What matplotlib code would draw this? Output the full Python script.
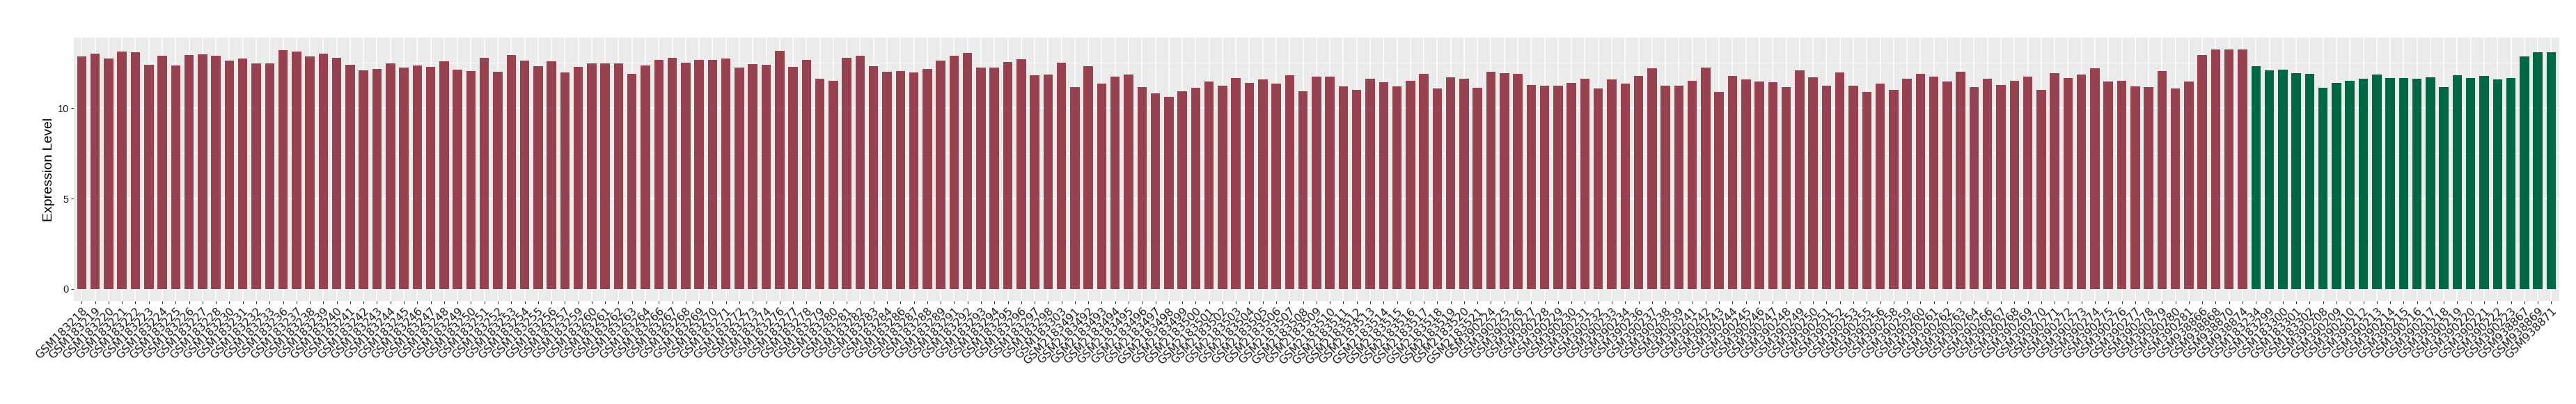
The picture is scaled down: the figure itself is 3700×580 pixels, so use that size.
import matplotlib
matplotlib.use("Agg")
import matplotlib.pyplot as plt
import numpy as np

# sample ids, first group (red)
red_samples = (
    ["GSM1832%02d" % n for n in [18, 19, 20, 21, 22, 23, 24, 25, 26, 27, 28, 30, 31, 32, 33,
                                  36, 37, 38, 39, 40, 41, 42, 43, 44, 45, 46, 47, 48, 49, 50,
                                  51, 52, 53, 54, 55, 56, 57, 59, 60, 61, 62, 63, 64, 66, 67,
                                  68, 69, 70, 71, 72, 73, 74, 76, 77, 78, 79, 80, 81, 82, 83,
                                  84, 86, 87, 88, 89, 91, 92, 93, 94, 95, 96, 97, 98]]
    + ["GSM183303"]
    + ["GSM2183%d" % n for n in range(491, 522)]
    + ["GSM390%d" % n for n in [224, 225, 226, 227, 228, 229, 230, 231, 232, 233, 234, 236,
                                237, 238, 239, 241, 242, 243, 244, 245, 246, 247, 248, 249,
                                250, 251, 252, 253, 255, 256, 258, 259, 260, 261, 262, 263,
                                264, 266, 267, 268, 269, 270, 271, 272, 273, 274, 275, 276,
                                277, 278, 279, 280, 281]]
    + ["GSM938866", "GSM938868", "GSM938870", "GSM938874"]
)

# second group (green)
green_samples = (
    ["GSM183234", "GSM183299", "GSM183300", "GSM183301", "GSM183302"]
    + ["GSM390%d" % n for n in [208, 209, 210, 212, 213, 214, 215, 216, 217, 218, 219, 220,
                                221, 222, 223]]
    + ["GSM938867", "GSM938869", "GSM938871"]
)

red_values = [
    12.87, 13.01, 12.74, 13.13, 13.09, 12.39, 12.89, 12.35, 12.93, 12.97,
    12.89, 12.62, 12.74, 12.47, 12.47, 13.20, 13.13, 12.85, 13.01, 12.78,
    12.39, 12.08, 12.16, 12.47, 12.23, 12.35, 12.27, 12.58, 12.12, 12.04,
    12.78, 12.00, 12.93, 12.62, 12.31, 12.58, 11.96, 12.27, 12.47, 12.47,
    12.47, 11.88, 12.35, 12.66, 12.78, 12.51, 12.66, 12.66, 12.74, 12.23,
    12.43, 12.39, 13.16, 12.27, 12.66, 11.61, 11.50, 12.78, 12.89, 12.31,
    12.00, 12.04, 11.96, 12.16, 12.62, 12.89, 13.05, 12.23, 12.23, 12.54,
    12.70, 11.81, 11.84, 12.51,
    11.18, 12.31, 11.34, 11.73, 11.84, 11.15, 10.80, 10.62, 10.95, 11.11,
    11.46, 11.26, 11.65, 11.38, 11.57, 11.34, 11.81, 10.95, 11.73, 11.73,
    11.22, 11.03, 11.61, 11.42, 11.22, 11.50, 11.88, 11.07, 11.69, 11.61,
    11.11,
    12.00, 11.92, 11.88, 11.30, 11.26, 11.26, 11.38, 11.61, 11.07, 11.57,
    11.34, 11.77, 12.19, 11.26, 11.26, 11.53, 12.23, 10.91, 11.77, 11.57,
    11.46, 11.42, 11.15, 12.08, 11.69, 11.26, 11.96, 11.26, 10.91, 11.34,
    11.03, 11.61, 11.88, 11.73, 11.46, 12.00, 11.15, 11.61, 11.30, 11.53,
    11.73, 11.03, 11.92, 11.65, 11.84, 12.19, 11.46, 11.53, 11.22, 11.18,
    12.04, 11.07, 11.46,
    12.93, 13.24, 13.24, 13.24,
]

green_values = [
    12.31, 12.08, 12.12, 11.92, 11.88, 11.11, 11.38, 11.50, 11.61, 11.84,
    11.65, 11.65, 11.61, 11.69, 11.15, 11.81, 11.65, 11.77, 11.57, 11.65,
    12.85, 13.09, 13.09,
]

samples = red_samples + green_samples
values = red_values + green_values
colors = ["#99424F"] * len(red_values) + ["#006846"] * len(green_values)

fig = plt.figure(figsize=(37, 5.8), dpi=100)
ax = fig.add_axes([0.0286, 0.255, 0.9649, 0.652])

x = np.arange(len(samples))
ax.bar(x, values, width=0.7, color=colors, zorder=3)

# ggplot-like panel
ax.set_facecolor("#EBEBEB")
for s in ax.spines.values():
    s.set_visible(False)
ax.set_xlim(-0.6, len(samples) - 0.4)
ymax = max(values) * 1.05
ax.set_ylim(-0.05 * max(values), ymax)
ax.set_yticks([0, 5, 10])
ax.set_yticks([2.5, 7.5, 12.5], minor=True)
ax.set_xticks(x)
ax.grid(True, which="major", color="white", linewidth=1.1, zorder=0)
ax.grid(True, which="minor", axis="y", color="white", linewidth=0.55, zorder=0)
ax.set_axisbelow(True)

ax.set_xticklabels(samples, rotation=45, ha="right", rotation_mode="anchor",
                   fontsize=11.5, family="DejaVu Sans", color="#1A1A1A")
for t in ax.get_yticklabels():
    t.set_fontsize(10.5)
    t.set_family("Liberation Sans")
    t.set_color("#1A1A1A")
ax.tick_params(axis="both", which="major", length=3, width=0.8, color="#333333", pad=2)
ax.tick_params(axis="y", which="minor", length=0)

ax.set_ylabel("Expression Level", fontsize=14, family="Liberation Sans", color="black")
ax.yaxis.set_label_coords(-0.0075, 0.5)

fig.savefig("out.png", dpi=100)
